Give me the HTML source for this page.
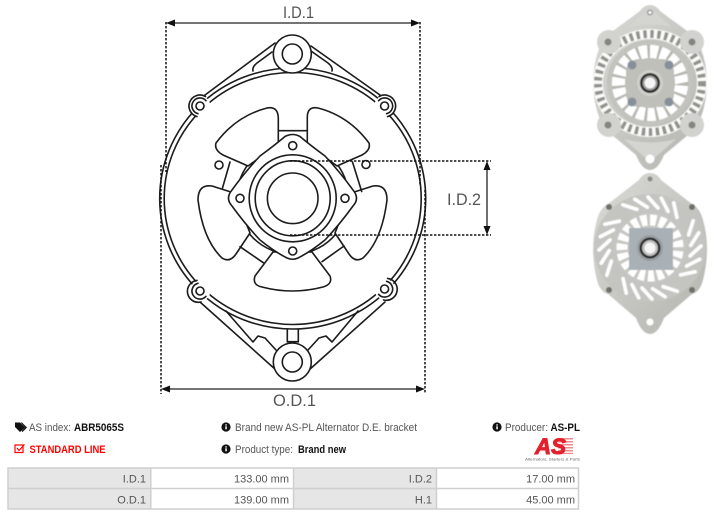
<!DOCTYPE html>
<html><head><meta charset="utf-8"><style>
html,body{margin:0;padding:0;background:#fff}
svg{display:block}
text{font-family:"Liberation Sans",sans-serif}
</style></head><body>
<svg width="714" height="517" viewBox="0 0 714 517" xmlns="http://www.w3.org/2000/svg">
<defs>
<filter id="b" x="-5%" y="-5%" width="110%" height="110%"><feGaussianBlur stdDeviation="0.4"/></filter>
<filter id="t" x="-5%" y="-5%" width="110%" height="110%"><feGaussianBlur stdDeviation="0.2"/></filter>
<radialGradient id="g1" cx="50%" cy="50%" r="60%"><stop offset="0" stop-color="#dcdcd8"/><stop offset="1" stop-color="#bcbcb7"/></radialGradient>
<linearGradient id="g2" x1="0" y1="0" x2="1" y2="1"><stop offset="0" stop-color="#dadad6"/><stop offset="1" stop-color="#b4b4af"/></linearGradient>
<line id="s" x1="648" y1="197" x2="658" y2="208" stroke="#fff" stroke-width="3.600" stroke-linecap="round"/>
</defs>
<rect width="714" height="517" fill="#fff"/>

<!-- Line drawing -->
<g fill="none" stroke="#1a1a1a" stroke-width="1.600" stroke-linejoin="round" stroke-linecap="round" filter="url(#t)">
<!-- bracket top -->
<path d="M275,43 L205,95 M311,46 L380,95"/>
<path d="M253,71 Q252,67 257,63 L272,52 M332,71 Q333,67 328,63 L311,51"/>
<!-- bracket bottom -->
<path d="M200,302 L276,370 M385,302 L309,370"/>
<path d="M226,311 L253,342 L258,336 L265,338 L276,350 M358,311 L332,342 L326,336 L319,338 L308,350"/>
<path d="M287.300,329 V342 M298.300,329 V342 M287.300,341.700 H298.300"/>
<!-- main rings -->
<ellipse cx="292.700" cy="198.500" rx="133" ry="130.500"/>
<ellipse cx="292.700" cy="198.500" rx="128.500" ry="126"/>
<!-- circle behind hub -->
<circle cx="292.700" cy="198.300" r="56"/>
<!-- petals (white fill) -->
<g fill="#fff">
<path d="M248,166 L223,155 Q214,150 216,143 Q236,116 267,108 Q278,106 278.300,118 L278.300,144 Z"/>
<path d="M337,166 L362,155 Q371,150 369,143 Q349,116 318,108 Q307,106 307.300,118 L307.300,144 Z"/>
<path d="M234,193 L212,186 Q198,184 198,200 Q203,240 222,258 Q230,263 236,254 L250,233 Z"/>
<path d="M351,193 L373,186 Q387,184 387,200 Q382,240 363,258 Q355,263 349,254 L335,233 Z"/>
<path d="M273,252 L255,276 Q252,285 262,287 Q292,295 323,287 Q333,284 330,276 L312,252 Z"/>
</g>
<path d="M278.300,130.700 H307.300 M230,162 L222.500,188 M352.500,162 L361.700,191.500 M240,246.700 L263.300,262.700 M344,246 L322,261.700"/>
<!-- hub -->
<path d="M285,136.500 Q292.700,132.500 300,136.500 Q310,145 325,156 Q340,172 353,190 Q360,198.300 353,206 Q340,224 325,240 Q310,252 298,258 Q292.700,260.500 287,258 Q275,252 260,240 Q245,224 232,206 Q225,198.300 232,190 Q245,172 260,156 Q275,145 285,136.500 Z" fill="#fff"/>
<circle cx="292.700" cy="198.300" r="43.500"/>
<circle cx="292.700" cy="198.300" r="37.500"/>
<circle cx="292.700" cy="198.300" r="25.300"/>
<circle cx="292.700" cy="145.700" r="4"/><circle cx="240" cy="198.300" r="4"/><circle cx="345" cy="198.300" r="4"/><circle cx="292.700" cy="251" r="4"/>
<circle cx="219" cy="165" r="4"/><circle cx="366" cy="164.500" r="4"/>
<!-- ears -->
<g fill="#fff" stroke="none">
<circle cx="200" cy="106" r="10.300"/><circle cx="384.600" cy="106" r="10.300"/><circle cx="200" cy="291" r="10.300"/><circle cx="384.600" cy="289" r="10.300"/>
</g>
<g>
<path d="M197,116.600 A11,11 0 1 1 205.500,96.500 M198,113.700 A8,8 0 1 1 206,100.700"/>
<circle cx="200" cy="106" r="4"/>
</g>
<g transform="translate(584.600,0) scale(-1,1)">
<path d="M197,116.600 A11,11 0 1 1 205.500,96.500 M198,113.700 A8,8 0 1 1 206,100.700"/>
<circle cx="200" cy="106" r="4"/>
</g>
<g>
<path d="M197,280.400 A11,11 0 1 0 201,302 M198,283.300 A8,8 0 1 0 206,296.300"/>
<circle cx="200" cy="291" r="4"/>
</g>
<g transform="translate(584.600,-2) scale(-1,1)">
<path d="M197,280.400 A11,11 0 1 0 201,302 M198,283.300 A8,8 0 1 0 206,296.300"/>
<circle cx="200" cy="291" r="4"/>
</g>
<!-- bosses -->
<circle cx="292.300" cy="54" r="19" fill="#fff"/><circle cx="292.300" cy="54" r="10"/>
<circle cx="292.300" cy="362" r="19" fill="#fff"/><circle cx="292.300" cy="362" r="10"/>
</g>

<!-- Dimensions -->
<g fill="none" stroke="#111" stroke-width="1.500" stroke-dasharray="2.400 1.600">
<path d="M166,22 V172 M420,22 V185"/>
<path d="M161,165 V394 M425,190 V394"/>
<path d="M290,161 H491 M290,235 H491"/>
</g>
<path d="M172,23 H414 M168,389 H418 M487,168 V228" fill="none" stroke="#222" stroke-width="1.300"/>
<g fill="#111">
<path d="M166,23 L175,19.500 V26.500 Z M420,23 L411,19.500 V26.500 Z"/>
<path d="M161,389 L170,385.500 V392.500 Z M425,389 L416,385.500 V392.500 Z"/>
<path d="M487,161 L483.500,170 H490.500 Z M487,235 L483.500,226 H490.500 Z"/>
</g>
<g fill="#555" font-size="17">
<text x="283" y="18" textLength="31" lengthAdjust="spacingAndGlyphs">I.D.1</text>
<text x="273" y="406" textLength="43" lengthAdjust="spacingAndGlyphs">O.D.1</text>
<text x="447" y="205" textLength="34" lengthAdjust="spacingAndGlyphs">I.D.2</text>
</g>

<!-- Photo 1 -->
<g filter="url(#b)">
<path d="M650,5 Q656,5 660,11 L694,36 Q699,38 700,46 Q714,82 700,120 Q699,128 694,130 L664,155 Q658,170 650,170 Q642,170 636,155 L606,130 Q601,128 600,120 Q586,82 600,46 Q601,38 606,36 L640,11 Q644,5 650,5 Z" fill="url(#g2)"/>
<ellipse cx="650" cy="83" rx="52" ry="49" fill="none" stroke="#fbfbfa" stroke-width="10"/>
<ellipse cx="650" cy="83" rx="52" ry="49" fill="none" stroke="#93938c" stroke-width="8" stroke-dasharray="3.500 3.500"/>
<path d="M650,9 L628,27 Q650,22 672,27 Z M650,162 L624,139 Q650,146 676,139 Z" fill="#d4d4d0"/>
<circle cx="609" cy="42" r="12" fill="#d2d2ce"/><circle cx="692" cy="42" r="12" fill="#d2d2ce"/>
<circle cx="609" cy="125" r="12" fill="#d2d2ce"/><circle cx="692" cy="125" r="12" fill="#d2d2ce"/>
<circle cx="650" cy="83" r="43" fill="url(#g1)"/>
<circle cx="650" cy="83" r="31.500" fill="none" stroke="#fff" stroke-width="13"/>
<circle cx="650" cy="83" r="31.500" fill="none" stroke="#b8b8b3" stroke-width="14" stroke-dasharray="2.600 7.800"/>
<rect x="626" y="59" width="48" height="48" rx="13" fill="#bcbcb7"/>
<circle cx="650" cy="83" r="25" fill="#c0c0bb"/>
<circle cx="632" cy="65" r="4.500" fill="#87909a"/><circle cx="669" cy="65" r="4.500" fill="#87909a"/><circle cx="632" cy="102" r="4.500" fill="#87909a"/><circle cx="669" cy="102" r="4.500" fill="#87909a"/>
<circle cx="650" cy="83" r="13" fill="#d0d0cc"/>
<circle cx="650" cy="83" r="10" fill="#2a2a28"/>
<circle cx="650" cy="83" r="7.500" fill="#a0a0a0"/>
<circle cx="650" cy="83" r="5.500" fill="#f4f4f4"/>
<circle cx="650" cy="12.500" r="3" fill="#999"/><circle cx="650" cy="12.500" r="1.500" fill="#fff"/>
<circle cx="650" cy="159" r="4.500" fill="#fff"/>
<circle cx="608" cy="42" r="3.500" fill="#858580"/><circle cx="692" cy="42" r="3.500" fill="#858580"/>
<circle cx="608" cy="125" r="3.500" fill="#858580"/><circle cx="692" cy="125" r="3.500" fill="#858580"/>
</g>

<!-- Photo 2 -->
<g filter="url(#b)">
<path d="M650,173 Q657,173 661,180 L692,204 Q700,208 703,220 Q711,248 703,280 Q700,292 692,294 L664,318 Q658,334 650,334 Q642,334 636,318 L608,294 Q600,292 597,280 Q589,248 597,220 Q600,208 608,204 L639,180 Q643,173 650,173 Z" fill="url(#g2)"/>
<ellipse cx="650" cy="248" rx="56" ry="54" fill="#c4c4c0"/>
<g>
<use href="#s"/><use href="#s" transform="rotate(15 650 248)"/><use href="#s" transform="rotate(30 650 248)"/><use href="#s" transform="rotate(-15 650 248)"/><use href="#s" transform="rotate(-30 650 248)"/><use href="#s" transform="rotate(60 650 248)"/><use href="#s" transform="rotate(75 650 248)"/><use href="#s" transform="rotate(90 650 248)"/><use href="#s" transform="rotate(105 650 248)"/><use href="#s" transform="rotate(120 650 248)"/><use href="#s" transform="rotate(150 650 248)"/><use href="#s" transform="rotate(165 650 248)"/><use href="#s" transform="rotate(180 650 248)"/><use href="#s" transform="rotate(195 650 248)"/><use href="#s" transform="rotate(210 650 248)"/><use href="#s" transform="rotate(240 650 248)"/><use href="#s" transform="rotate(255 650 248)"/><use href="#s" transform="rotate(270 650 248)"/><use href="#s" transform="rotate(285 650 248)"/><use href="#s" transform="rotate(300 650 248)"/>
</g>
<circle cx="650" cy="248" r="36" fill="#c6c6c2"/>
<circle cx="650" cy="248" r="28" fill="none" stroke="#fff" stroke-width="11"/>
<circle cx="650" cy="248" r="28" fill="none" stroke="#c6c6c2" stroke-width="12" stroke-dasharray="3 6.200"/>
<rect x="629" y="228" width="44" height="42" fill="#a9b1b6"/>
<circle cx="650" cy="248" r="13" fill="#979da2"/>
<circle cx="650" cy="248" r="10.500" fill="#262626"/>
<circle cx="650" cy="248" r="8" fill="#c0c0c0"/>
<circle cx="650" cy="248" r="5.500" fill="#f5f5f5"/>
<circle cx="650" cy="179" r="2.500" fill="#888"/>
<circle cx="650" cy="322" r="3.500" fill="#fff"/>
<circle cx="609" cy="207" r="3" fill="#6f6f6a"/><circle cx="692" cy="207" r="3" fill="#6f6f6a"/>
<circle cx="609" cy="290" r="3" fill="#6f6f6a"/><circle cx="692" cy="290" r="3" fill="#6f6f6a"/>
</g>

<!-- Info rows -->
<g font-size="11" fill="#555">
<path d="M15,422.500 H20 L25,427.500 L20,432 L15,427 Z" fill="#111"/>
<path d="M22,422.500 L27,427.500 L22.500,432 L21.500,431 L25,427.500 L20.500,422.500 Z" fill="#111"/>
<text x="29" y="431" textLength="42" lengthAdjust="spacingAndGlyphs">AS index:</text>
<text x="74" y="431" font-weight="bold" fill="#111" textLength="50" lengthAdjust="spacingAndGlyphs">ABR5065S</text>
<text x="235" y="431" textLength="182" lengthAdjust="spacingAndGlyphs">Brand new AS-PL Alternator D.E. bracket</text>
<text x="505" y="431" textLength="43" lengthAdjust="spacingAndGlyphs">Producer:</text>
<text x="550.500" y="431" font-weight="bold" fill="#111" textLength="29.500" lengthAdjust="spacingAndGlyphs">AS-PL</text>
<text x="235" y="453" textLength="58" lengthAdjust="spacingAndGlyphs">Product type:</text>
<text x="298" y="453" font-weight="bold" fill="#111" textLength="48" lengthAdjust="spacingAndGlyphs">Brand new</text>
<text x="29.500" y="453" font-weight="bold" fill="#f00" textLength="76" lengthAdjust="spacingAndGlyphs">STANDARD LINE</text>
</g>
<g fill="none" stroke="#f00" stroke-width="1.200"><rect x="15" y="445" width="8" height="7.500"/><path d="M17,448 L19,450.500 L24.500,444.500"/></g>
<g>
<circle cx="226" cy="427" r="4.600" fill="#111"/><rect x="225.300" y="426.300" width="1.500" height="3" fill="#fff"/><rect x="225.300" y="424.300" width="1.500" height="1.300" fill="#fff"/>
<circle cx="226" cy="449" r="4.600" fill="#111"/><rect x="225.300" y="448.300" width="1.500" height="3" fill="#fff"/><rect x="225.300" y="446.300" width="1.500" height="1.300" fill="#fff"/>
<circle cx="497" cy="427" r="4.600" fill="#111"/><rect x="496.300" y="426.300" width="1.500" height="3" fill="#fff"/><rect x="496.300" y="424.300" width="1.500" height="1.300" fill="#fff"/>
</g>

<!-- Logo -->
<g fill="#f08a8f"><rect x="558" y="438" width="15" height="1.500"/><rect x="558" y="441" width="15" height="1.500"/><rect x="558" y="444" width="15" height="1.500"/><rect x="558" y="447" width="15" height="1.500"/><rect x="558" y="450" width="15" height="1.500"/><rect x="558" y="452.800" width="15" height="1.200"/></g>
<text x="535" y="454" font-size="22" font-weight="bold" font-style="italic" fill="#e3202b" stroke="#e3202b" stroke-width="1" textLength="31" lengthAdjust="spacingAndGlyphs">AS</text>
<text x="525" y="460.500" font-size="3.600" fill="#666" textLength="55" lengthAdjust="spacingAndGlyphs">Alternators, Starters &amp; Parts</text>

<!-- Table -->
<rect x="8" y="468" width="142.500" height="41" fill="#e6e6e6"/>
<rect x="294" y="468" width="142.500" height="41" fill="#e6e6e6"/>
<g fill="none" stroke="#cfcfcf" stroke-width="1.500">
<rect x="8" y="468" width="570.500" height="41"/>
<path d="M8,488.500 H578.500 M150.800,468 V509 M293.500,468 V509 M436.500,468 V509"/>
</g>
<g font-size="11" fill="#555" text-anchor="end">
<text x="146" y="482.500">I.D.1</text>
<text x="146" y="503.500">O.D.1</text>
<text x="289" y="482.500">133.00 mm</text>
<text x="289" y="503.500">139.00 mm</text>
<text x="432" y="482.500">I.D.2</text>
<text x="432" y="503.500">H.1</text>
<text x="575" y="482.500">17.00 mm</text>
<text x="575" y="503.500">45.00 mm</text>
</g>
</svg>
</body></html>
